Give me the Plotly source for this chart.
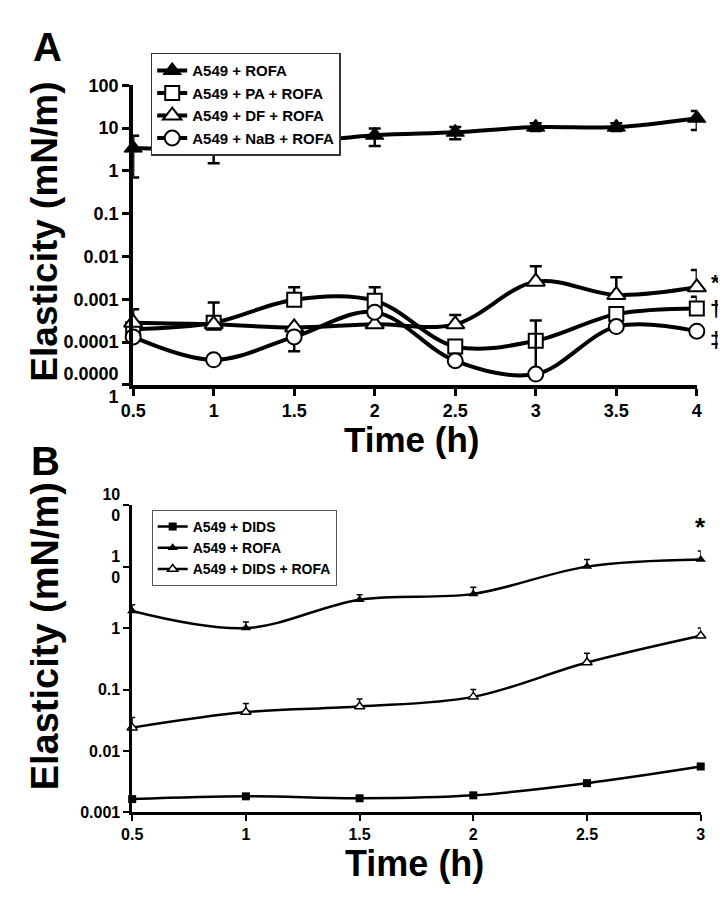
import plotly.graph_objects as go
import math

FONT = "Liberation Sans, Arial, Helvetica, sans-serif"

# ---------------- Panel A data ----------------
time_a = [0.5, 1, 1.5, 2, 2.5, 3, 3.5, 4]
time_a_labels = ["0.5", "1", "1.5", "2", "2.5", "3", "3.5", "4"]

rofa_a = [3.4, 3.3, 4.5, 6.8, 8.0, 10.5, 10.5, 17.0]
rofa_a_up = [3.2, 2.0, 2.0, 3.0, 2.5, 2.5, 2.5, 8.0]
rofa_a_dn = [2.7, 1.8, 1.5, 3.0, 2.5, 2.0, 2.0, 8.0]

pa_a = [2.0e-4, 2.84e-4, 9.75e-4, 9.3e-4, 7.9e-5, 1.07e-4, 4.5e-4, 6.1e-4]
pa_a_up = [None, 5.6e-4, 9.3e-4, 9.7e-4, None, None, None, 5.4e-4]

df_a = [2.84e-4, 2.6e-4, 2.2e-4, 2.6e-4, 2.6e-4, 2.58e-3, 1.26e-3, 1.9e-3]
df_a_up = [3.0e-4, None, None, None, 1.7e-4, 3.3e-3, 2.0e-3, 2.9e-3]

nab_a = [1.32e-4, 3.85e-5, 1.32e-4, 5.0e-4, 3.66e-5, 1.79e-5, 2.3e-4, 1.8e-4]
nab_a_up = [None, None, None, None, None, 3.0e-4, None, None]
nab_a_dn = [None, None, 7.1e-5, None, None, None, None, None]

ytick_a_vals = [1e-5, 1e-4, 1e-3, 1e-2, 1e-1, 1, 10, 100]
ytick_a_text = ["0.0000<br>1", "0.0001", "0.001", "0.01", "0.1", "1", "10", "100"]

names_a = ["A549 + ROFA", "A549 + PA + ROFA", "A549 + DF + ROFA", "A549 + NaB + ROFA"]
marks_a = ["*", "†", "‡"]

# ---------------- Panel B data ----------------
time_b = [0.5, 1, 1.5, 2, 2.5, 3]
time_b_labels = ["0.5", "1", "1.5", "2", "2.5", "3"]

dids_b = [0.00165, 0.00183, 0.0017, 0.0019, 0.0030, 0.0056]
rofa_b = [1.9, 1.0, 2.9, 3.6, 10.0, 13.0]
rofa_b_up = [0.5, 0.25, 0.6, 1.0, 3.0, 5.0]
didsrofa_b = [0.024, 0.043, 0.053, 0.076, 0.275, 0.75]
didsrofa_b_up = [0.011, 0.016, 0.017, 0.024, 0.115, 0.25]

ytick_b_vals = [1e-3, 1e-2, 1e-1, 1, 10, 100]
ytick_b_text = ["0.001", "0.01", "0.1", "1", "1<br>0", "10<br>0"]

names_b = ["A549 + DIDS", "A549 + ROFA", "A549 + DIDS + ROFA"]

W, H = 726, 899


def px_x(a, b):
    return [a / W, b / W]


def px_y(top, bottom):
    return [1 - bottom / H, 1 - top / H]


fig = go.Figure()

# ---- Panel A traces ----
lineA = dict(color="black", width=4, shape="spline", smoothing=1)
errA = dict(color="black", thickness=2.5, width=6)

fig.add_trace(go.Scatter(
    x=time_a, y=rofa_a, name=names_a[0], mode="lines+markers",
    line=lineA, cliponaxis=False,
    marker=dict(symbol="triangle-up", size=16, color="black", line=dict(color="black", width=1)),
    error_y=dict(type="data", symmetric=False, array=rofa_a_up, arrayminus=rofa_a_dn, **errA),
    xaxis="x", yaxis="y", legend="legend"))
fig.add_trace(go.Scatter(
    x=time_a, y=pa_a, name=names_a[1], mode="lines+markers",
    line=lineA, cliponaxis=False,
    marker=dict(symbol="square", size=14, color="white", line=dict(color="black", width=2)),
    error_y=dict(type="data", symmetric=False, array=pa_a_up, arrayminus=[None] * 8, **errA),
    xaxis="x", yaxis="y", legend="legend"))
fig.add_trace(go.Scatter(
    x=time_a, y=df_a, name=names_a[2], mode="lines+markers",
    line=lineA, cliponaxis=False,
    marker=dict(symbol="triangle-up", size=16, color="white", line=dict(color="black", width=2)),
    error_y=dict(type="data", symmetric=False, array=df_a_up, arrayminus=[None] * 8, **errA),
    xaxis="x", yaxis="y", legend="legend"))
fig.add_trace(go.Scatter(
    x=time_a, y=nab_a, name=names_a[3], mode="lines+markers",
    line=lineA, cliponaxis=False,
    marker=dict(symbol="circle", size=15, color="white", line=dict(color="black", width=2)),
    error_y=dict(type="data", symmetric=False, array=nab_a_up, arrayminus=nab_a_dn, **errA),
    xaxis="x", yaxis="y", legend="legend"))

# ---- Panel B traces ----
lineB = dict(color="black", width=2.5, shape="spline", smoothing=1)
errB = dict(color="black", thickness=1.5, width=3)

fig.add_trace(go.Scatter(
    x=time_b, y=dids_b, name=names_b[0], mode="lines+markers",
    line=lineB, cliponaxis=False,
    marker=dict(symbol="square", size=8, color="black"),
    xaxis="x2", yaxis="y2", legend="legend2"))
fig.add_trace(go.Scatter(
    x=time_b, y=rofa_b, name=names_b[1], mode="lines+markers",
    line=lineB, cliponaxis=False,
    marker=dict(symbol="triangle-up", size=9, color="black"),
    error_y=dict(type="data", symmetric=False, array=rofa_b_up, arrayminus=[None] * 6, **errB),
    xaxis="x2", yaxis="y2", legend="legend2"))
fig.add_trace(go.Scatter(
    x=time_b, y=didsrofa_b, name=names_b[2], mode="lines+markers",
    line=lineB, cliponaxis=False,
    marker=dict(symbol="triangle-up", size=9, color="white", line=dict(color="black", width=1.5)),
    error_y=dict(type="data", symmetric=False, array=didsrofa_b_up, arrayminus=[None] * 6, **errB),
    xaxis="x2", yaxis="y2", legend="legend2"))

bold = lambda s: dict(family=FONT, size=s, color="black", weight="bold")

annotations = [
    dict(text="A", x=27 / W, y=1 - 21 / H, xref="paper", yref="paper", showarrow=False,
         font=bold(40), xanchor="center", yanchor="middle"),
    dict(text="B", x=25 / W, y=1 - 455 / H, xref="paper", yref="paper", showarrow=False,
         font=bold(40), xanchor="center", yanchor="middle"),
    dict(text="Elasticity (mN/m)", x=24 / W, y=1 - 214 / H, xref="paper", yref="paper",
         showarrow=False, textangle=-90, font=bold(37), xanchor="center", yanchor="middle"),
    dict(text="Elasticity (mN/m)", x=24 / W, y=1 - 638 / H, xref="paper", yref="paper",
         showarrow=False, textangle=-90, font=bold(38), xanchor="center", yanchor="middle"),
    dict(text="Time (h)", x=400 / W, y=1 - 432 / H, xref="paper", yref="paper",
         showarrow=False, font=bold(35), xanchor="center", yanchor="middle"),
    dict(text="Time (h)", x=403 / W, y=1 - 876 / H, xref="paper", yref="paper",
         showarrow=False, font=bold(36), xanchor="center", yanchor="middle"),
]
# significance marks in panel A next to the last points
for mk, series, dy in zip(marks_a, [df_a, pa_a, nab_a], [5, 0, -8]):
    annotations.append(dict(text=mk, x=time_a[-1], y=math.log10(series[-1]), xref="x", yref="y",
                            showarrow=False, xshift=19, yshift=dy, font=bold(22),
                            xanchor="center", yanchor="middle"))
annotations.append(dict(text="*", x=time_b[-1], y=math.log10(rofa_b[-1] + rofa_b_up[-1]),
                        xref="x2", yref="y2", showarrow=False, yshift=24, font=bold(26),
                        xanchor="center", yanchor="middle"))

axA = dict(showline=True, linecolor="black", linewidth=4, ticks="outside", ticklen=7,
           tickwidth=3, tickcolor="black", showgrid=False, zeroline=False,
           tickfont=bold(18))
axB = dict(showline=True, linecolor="black", linewidth=2.5, ticks="outside", ticklen=6,
           tickwidth=2, tickcolor="black", showgrid=False, zeroline=False,
           tickfont=bold(16))

fig.update_layout(
    width=W, height=H, margin=dict(l=0, r=0, t=0, b=0),
    paper_bgcolor="white", plot_bgcolor="white",
    xaxis=dict(domain=px_x(115, 693), range=[0.5, 4], anchor="y", tickmode="array",
               tickvals=time_a, ticktext=time_a_labels, **axA),
    yaxis=dict(domain=px_y(61, 375), type="log", range=[-5, 2], anchor="x",
               tickmode="array", tickvals=ytick_a_vals, ticktext=ytick_a_text, **axA),
    xaxis2=dict(domain=px_x(114, 697), range=[0.5, 3], anchor="y2", tickmode="array",
                tickvals=time_b, ticktext=time_b_labels, **axB),
    yaxis2=dict(domain=px_y(501, 823), type="log", range=[-3, 2], anchor="x2",
                tickmode="array", tickvals=ytick_b_vals, ticktext=ytick_b_text, **axB),
    legend=dict(x=133 / W, y=1 - 27 / H, xanchor="left", yanchor="top",
                bordercolor="#333333", borderwidth=1.5, bgcolor="white",
                font=bold(15), tracegroupgap=0, itemwidth=30),
    legend2=dict(x=134 / W, y=1 - 506 / H, xanchor="left", yanchor="top",
                 bordercolor="#555555", borderwidth=1, bgcolor="white",
                 font=bold(14), tracegroupgap=0, itemwidth=30),
    annotations=annotations,
    showlegend=True,
)

fig.write_html("out.html")
